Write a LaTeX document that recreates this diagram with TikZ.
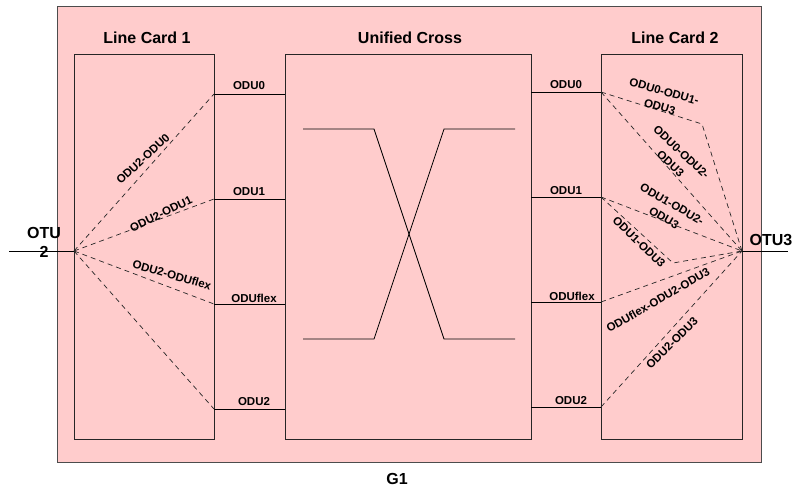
\documentclass[tikz,border=0pt]{standalone}
\usepackage{fontspec}
\setmainfont{Liberation Sans}
\begin{document}
\begin{tikzpicture}[x=1pt,y=-1pt,
  frame/.style={draw=black!70, line width=0.8pt, fill=pinkbg, anchor=north west,
                inner sep=0pt, outer sep=0pt},
  card/.style={draw=black!85, line width=0.8pt, anchor=north west,
               inner sep=0pt, outer sep=0pt},
  wire/.style={draw=black, line width=0.8pt},
  dwire/.style={draw=black!85, line width=0.7pt, dash pattern=on 5pt off 4pt},
  title/.style={font=\bfseries\fontsize{16}{19}\selectfont, inner sep=0pt, align=center},
  port/.style={font=\bfseries\fontsize{11.5}{13}\selectfont, inner sep=0pt},
  dlbl/.style={font=\bfseries\fontsize{11.5}{16}\selectfont, inner sep=0pt, align=center},
]
\definecolor{pinkbg}{HTML}{FFCCCC}
\useasboundingbox (0,0) rectangle (798,493);
\fill[white] (0,0) rectangle (798,493);

% shelf and cards
\node[frame, minimum width=704, minimum height=456] (g1box) at (57,6) {};
\node[card, minimum width=140, minimum height=385] (lc1) at (74,54) {};
\node[card, minimum width=246, minimum height=385] (uc) at (285,54) {};
\node[card, minimum width=141, minimum height=385] (lc2) at (601,54) {};

\node[title] (t1) at (147,38) {Line Card 1};
\node[title] (t2) at (410,38) {Unified Cross};
\node[title] (t3) at (675,38) {Line Card 2};
\node[title] (tg) at (397,479) {G1};

% client ports
\coordinate (otu2) at (74,251);
\coordinate (otu2end) at (9,251);
\coordinate (otu3) at (742,251);
\coordinate (otu3end) at (788,251);
\draw[wire] (otu2end) -- (otu2);
\draw[wire] (otu3) -- (otu3end);
\node[title] (otu2lbl) at (44,242) {OTU\\2};
\node[title] (otu3lbl) at (771,240) {OTU3};

% backplane links, card 1 to cross
\coordinate (a0) at (214,94);  \coordinate (b0) at (285,94);
\coordinate (a1) at (214,199); \coordinate (b1) at (285,199);
\coordinate (af) at (214,304); \coordinate (bf) at (285,304);
\coordinate (a2) at (214,409); \coordinate (b2) at (285,409);
\draw[wire] (a0) -- (b0);
\draw[wire] (a1) -- (b1);
\draw[wire] (af) -- (bf);
\draw[wire] (a2) -- (b2);
\node[port] (pa0) at (249,86) {ODU0};
\node[port] (pa1) at (249,192) {ODU1};
\node[port] (paf) at (254,298) {ODUflex};
\node[port] (pa2) at (254,402) {ODU2};

% backplane links, cross to card 2
\coordinate (c0) at (531,92);  \coordinate (d0) at (601,92);
\coordinate (c1) at (531,197); \coordinate (d1) at (601,197);
\coordinate (cf) at (531,302); \coordinate (df) at (601,302);
\coordinate (c2) at (531,407); \coordinate (d2) at (601,407);
\draw[wire] (c0) -- (d0);
\draw[wire] (c1) -- (d1);
\draw[wire] (cf) -- (df);
\draw[wire] (c2) -- (d2);
\node[port] (pc0) at (566,85) {ODU0};
\node[port] (pc1) at (566,191) {ODU1};
\node[port] (pcf) at (572,296) {ODUflex};
\node[port] (pc2) at (571,401) {ODU2};

% cross-connect symbol
\coordinate (x1) at (303,129); \coordinate (x2) at (374,129);
\coordinate (x3) at (444,339); \coordinate (x4) at (515,339);
\coordinate (y1) at (303,339); \coordinate (y2) at (374,339);
\coordinate (y3) at (444,129); \coordinate (y4) at (515,129);
\draw[wire] (x1) -- (x2) -- (x3) -- (x4);
\draw[wire] (y1) -- (y2) -- (y3) -- (y4);

% card 1 demultiplexing paths
\draw[dwire] (otu2) -- (a0);
\draw[dwire] (otu2) -- (a1);
\draw[dwire] (otu2) -- (af);
\draw[dwire] (otu2) -- (a2);
\node[dlbl, rotate=43] (m0) at (143,159) {ODU2-ODU0};
\node[dlbl, rotate=26] (m1) at (161,214) {ODU2-ODU1};
\node[dlbl, rotate=-16] (mf) at (172,275) {ODU2-ODUflex};

% card 2 multiplexing paths
\coordinate (k0) at (702,124);
\coordinate (k1) at (673,263);
\draw[dwire] (d0) -- (k0) -- (otu3);
\draw[dwire] (d0) -- (otu3);
\draw[dwire] (d1) -- (otu3);
\draw[dwire] (d1) -- (k1) -- (otu3);
\draw[dwire] (df) -- (otu3);
\draw[dwire] (d2) -- (otu3);
\node[dlbl, rotate=-16] (n0) at (662,99) {ODU0-ODU1-\\ODU3};
\node[dlbl, rotate=-43] (n1) at (676,158) {ODU0-ODU2-\\ODU3};
\node[dlbl, rotate=-30] (n2) at (668,211) {ODU1-ODU2-\\ODU3};
\node[dlbl, rotate=-44] (n3) at (639,242) {ODU1-ODU3};
\node[dlbl, rotate=30] (n4) at (658,300) {ODUflex-ODU2-ODU3};
\node[dlbl, rotate=45] (n5) at (672,343) {ODU2-ODU3};
\end{tikzpicture}
\end{document}
